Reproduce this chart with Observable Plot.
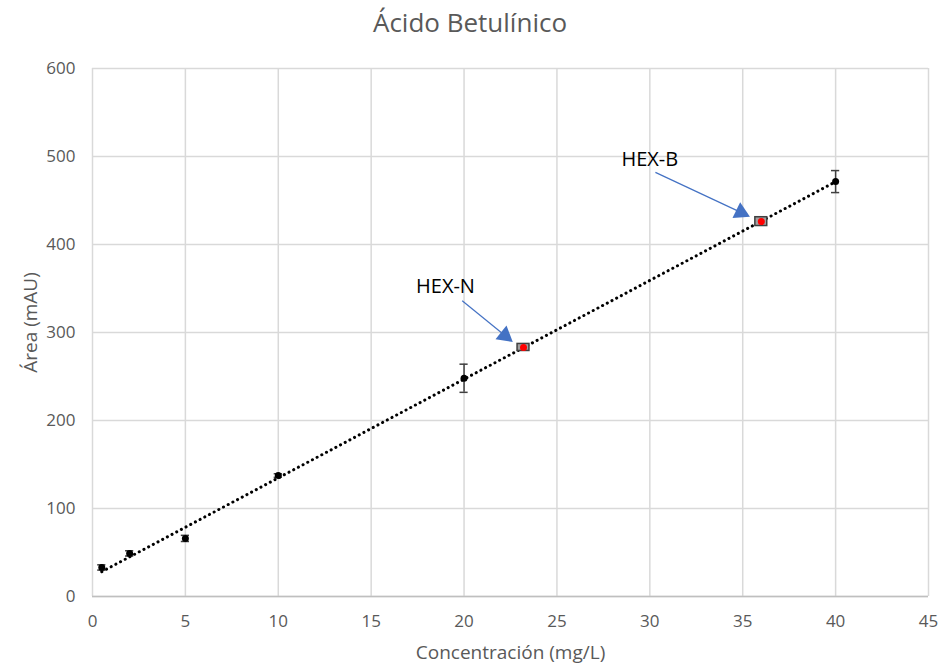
<!DOCTYPE html>
<html><head><meta charset="utf-8">
<script src="https://cdn.jsdelivr.net/npm/d3@7"></script>
<script src="https://cdn.jsdelivr.net/npm/@observablehq/plot@0.6"></script>
<style>
body{margin:0;background:#fff;font-family:"Open Sans",sans-serif;}
#title{height:44px;text-align:center;font-size:26px;color:#595959;line-height:44px;}
</style></head>
<body>
<div id="title">Ácido Betulínico</div>
<div id="chart"></div>
<script>
const conc = [0.5, 2, 5, 10, 20, 40];
const area = [33, 49, 66, 137.5, 248, 471.5];
const areaErr = [3, 3, 3.5, 2, 16, 12.5];
const sampleNames = ["HEX-N", "HEX-B"];
const sampleConc = [23.2, 36.0];
const sampleArea = [283, 426];
const sampleConcErr = [0.32, 0.32];
const sampleAreaErr = [4, 5];
// annotation arrows (data coordinates)
const labelX = [19.0, 30.0];
const labelY = [352, 497];
const arrowX1 = [19.9, 30.3];
const arrowY1 = [336, 482];
const arrowX2 = [22.2, 34.9];
const arrowY2 = [296.5, 436.5];
const arrowAngle = [129, 116];
const xTicks = [0,5,10,15,20,25,30,35,40,45];
const yTicks = [0,100,200,300,400,500,600];
const xLabel = "Concentración (mg/L)";
const yLabel = "Área (mAU)";

const cal = conc.map((c,i)=>({x:c, y:area[i], e:areaErr[i]}));
const samp = sampleNames.map((n,i)=>({name:n, x:sampleConc[i], y:sampleArea[i], ex:sampleConcErr[i], ey:sampleAreaErr[i]}));
const ann = sampleNames.map((n,i)=>({name:n, lx:labelX[i], ly:labelY[i], x1:arrowX1[i], y1:arrowY1[i], x2:arrowX2[i], y2:arrowY2[i], a:arrowAngle[i]}));
const capW = 0.22;

const chart = Plot.plot({
  width: 940, height: 626,
  marginLeft: 92, marginRight: 12, marginTop: 24, marginBottom: 74,
  style: {fontFamily: "Open Sans, sans-serif", fontSize: "17px", color: "#595959", background: "#fff"},
  x: {domain: [0, 45], ticks: xTicks, tickSize: 0, tickPadding: 18, label: null},
  y: {domain: [0, 600], ticks: yTicks, tickSize: 0, tickPadding: 17, label: null},
  marks: [
    Plot.gridX(xTicks, {stroke: "#d9d9d9", strokeOpacity: 1, strokeWidth: 1.5}),
    Plot.gridY(yTicks, {stroke: "#d9d9d9", strokeOpacity: 1, strokeWidth: 1.5}),
    Plot.ruleY([0], {stroke: "#bfbfbf", strokeWidth: 1.5}),
    Plot.linearRegressionY(cal, {x: "x", y: "y", ci: 0, stroke: "#000", strokeWidth: 3, strokeDasharray: "0.1,5.2", strokeLinecap: "round"}),
    // error bars
    Plot.ruleX(cal, {x: "x", y1: d => d.y - d.e, y2: d => d.y + d.e, stroke: "#404040", strokeWidth: 1.5}),
    Plot.ruleY(cal, {y: d => d.y - d.e, x1: d => d.x - capW, x2: d => d.x + capW, stroke: "#404040", strokeWidth: 1.5}),
    Plot.ruleY(cal, {y: d => d.y + d.e, x1: d => d.x - capW, x2: d => d.x + capW, stroke: "#404040", strokeWidth: 1.5}),
    Plot.dot(cal, {x: "x", y: "y", r: 3.5, fill: "#000", stroke: "none"}),
    // samples
    Plot.rect(samp, {x1: d => d.x - d.ex, x2: d => d.x + d.ex, y1: d => d.y - d.ey, y2: d => d.y + d.ey, fill: "#a0a0a0", stroke: "#404040", strokeWidth: 1.5}),
    Plot.dot(samp, {x: "x", y: "y", r: 3.5, fill: "#ff0000", stroke: "none"}),
    // annotations
    Plot.link(ann, {x1: "x1", y1: "y1", x2: "x2", y2: "y2", stroke: "#4472C4", strokeWidth: 1.2}),
    Plot.dot(ann, {x: "x2", y: "y2", symbol: "triangle", r: 6.5, fill: "#4472C4", stroke: "none", rotate: "a"}),
    Plot.text(ann, {x: "lx", y: "ly", text: "name", fontSize: 20, fill: "#000", fontFamily: "Open Sans, sans-serif"}),
    // axis titles
    Plot.text([xLabel], {frameAnchor: "bottom", textAnchor: "middle", dy: 62, text: d => d, fontSize: 19, fill: "#595959"}),
    Plot.text([yLabel], {frameAnchor: "left", textAnchor: "middle", dx: -62, dy: -10, rotate: -90, text: d => d, fontSize: 19, fill: "#595959"})
  ]
});
document.getElementById("chart").appendChild(chart);
</script>
</body></html>
